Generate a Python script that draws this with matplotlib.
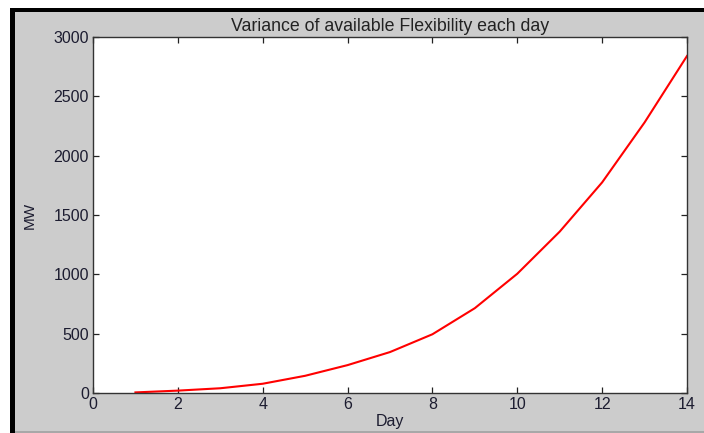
import matplotlib
matplotlib.use("Agg")
import matplotlib.pyplot as plt
from matplotlib.patches import Rectangle

days = [1, 2, 3, 4, 5, 6, 7, 8, 9, 10, 11, 12, 13, 14]
variance_mw = [5, 20, 40, 78, 145, 235, 345, 495, 715, 1005, 1360, 1775, 2280, 2840]

x_ticks = [0, 2, 4, 6, 8, 10, 12, 14]
y_ticks = [0, 500, 1000, 1500, 2000, 2500, 3000]

W, H = 704, 433
plt.rcParams["font.family"] = ["Liberation Sans", "DejaVu Sans"]

fig = plt.figure(figsize=(W / 100, H / 100), dpi=100, facecolor="white")


def fx(px):
    return px / W


def fy(py):
    return 1 - py / H


def panel(x0, y0, x1, y1, color):
    fig.patches.append(Rectangle((fx(x0), fy(y1)), fx(x1) - fx(x0), fy(y0) - fy(y1),
                                 transform=fig.transFigure, facecolor=color,
                                 edgecolor="none", zorder=-5))


# grey window panel with dark frame on the left and top
panel(15, 12, 704, 431, "#cccccc")
panel(15, 431, 704, 433, "#a8a8a8")
panel(10, 8, 15, 433, "black")
panel(10, 8, 704, 12, "black")

ax = fig.add_axes([fx(93), fy(393), fx(687) - fx(93), fy(37) - fy(393)])
ax.set_zorder(5)
ax.set_facecolor("white")
ax.plot(days, variance_mw, color="#ff0000", linewidth=1.5)

ax.set_xlim(0, 14)
ax.set_ylim(0, 3000)
ax.set_xticks(x_ticks)
ax.set_yticks(y_ticks)

text_col = "#1c1c30"
ax.tick_params(direction="in", length=4.5, width=0.9, top=True, right=True,
               labelsize=11.5, labelcolor=text_col, color="#222222", pad=3)
for s in ax.spines.values():
    s.set_color("#333333")
    s.set_linewidth(1.0)

ax.set_title("Variance of available Flexibility each day", fontsize=12.8,
             color="#222222", pad=4)
ax.set_xlabel("Day", fontsize=11.5, color=text_col, labelpad=1)
ax.set_ylabel("MW", fontsize=11, color=text_col, labelpad=12)

fig.savefig("out.png", dpi=100, facecolor="white")
